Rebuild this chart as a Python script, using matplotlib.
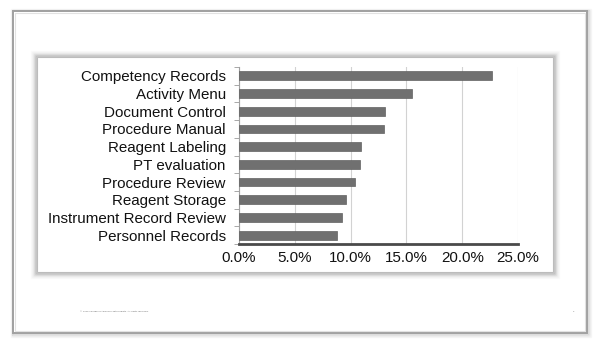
import matplotlib
matplotlib.use("Agg")
import matplotlib.pyplot as plt
from matplotlib.patches import Rectangle
from matplotlib.ticker import FixedLocator, FuncFormatter

categories = [
    "Competency Records",
    "Activity Menu",
    "Document Control",
    "Procedure Manual",
    "Reagent Labeling",
    "PT evaluation",
    "Procedure Review",
    "Reagent Storage",
    "Instrument Record Review",
    "Personnel Records",
]
percent = [22.7, 15.5, 13.1, 13.0, 10.9, 10.8, 10.4, 9.6, 9.2, 8.8]
x_ticks = [0, 5, 10, 15, 20, 25]

W, H = 600, 344
fig = plt.figure(figsize=(W / 100, H / 100), dpi=100)
fig.patch.set_facecolor("white")


def px_rect(x0, y0, x1, y1, **kw):
    """Rectangle given in pixel coordinates (origin at top-left)."""
    return Rectangle((x0 / W, 1 - y1 / H), (x1 - x0) / W, (y1 - y0) / H,
                     transform=fig.transFigure, zorder=-5, **kw)


# slide frame with soft shadow
for i, a in enumerate([0.12, 0.08, 0.05, 0.03]):
    d = i + 1
    fig.patches.append(px_rect(13 - d * 0.5, 11 - d * 0.5, 587 + d, 333 + d,
                               facecolor="none", edgecolor="black",
                               linewidth=1.0, alpha=a))
fig.patches.append(px_rect(13, 11, 587, 333, facecolor="white",
                           edgecolor="#a0a0a0", linewidth=1.4))
fig.patches.append(px_rect(15, 13, 585, 331, facecolor="none",
                           edgecolor="#e2e2e2", linewidth=0.8))

# chart panel with soft shadow
for i, a in enumerate([0.20, 0.15, 0.10, 0.06, 0.035, 0.02]):
    d = i + 1
    fig.patches.append(px_rect(37 - d, 57 - d, 553 + d, 272 + d,
                               facecolor="none", edgecolor="black",
                               linewidth=1.0, alpha=a))
fig.patches.append(px_rect(37, 57, 553, 272, facecolor="white",
                           edgecolor="#bcbcbc", linewidth=0.8))

# footer
fig.text(80 / W, 1 - 311 / H,
         "\u00a9 2016 College of American Pathologists. All rights reserved.",
         fontsize=1.6, color="#666666", va="center", ha="left")
fig.text(573 / W, 1 - 311 / H, "2", fontsize=1.6, color="#666666",
         va="center", ha="left")

# bar chart
left, right, top, bottom = 239, 518, 67, 244
ax = fig.add_axes([left / W, 1 - bottom / H, (right - left) / W, (bottom - top) / H])
ax.set_zorder(5)
ax.set_facecolor("white")
ypos = list(range(len(categories)))
ax.barh(ypos, percent, height=0.5, color="#707070", edgecolor="#626262",
        linewidth=0.5, zorder=3)
ax.set_ylim(len(categories) - 0.5, -0.5)
ax.set_xlim(0, 25)

ax.set_xticks(x_ticks)
ax.xaxis.set_major_formatter(FuncFormatter(lambda v, p: f"{v:.1f}%"))
ax.set_yticks(ypos)
ax.set_yticklabels(categories)
ax.yaxis.set_minor_locator(FixedLocator([k + 0.5 for k in range(-1, len(categories))]))

font = dict(family=["Liberation Sans", "DejaVu Sans"], size=10.9, color="#111111")
for lab in ax.get_xticklabels() + ax.get_yticklabels():
    lab.set_fontfamily(font["family"])
    lab.set_fontsize(font["size"])
    lab.set_color(font["color"])

ax.tick_params(axis="y", which="major", length=0, pad=9.5)
ax.tick_params(axis="y", which="minor", length=3.5, width=0.6, color="#9a9a9a")
ax.tick_params(axis="x", which="major", length=0, pad=5)

ax.grid(axis="x", color="#d2d2d2", linewidth=0.8, zorder=0)
ax.set_axisbelow(True)
for s in ["top", "right"]:
    ax.spines[s].set_visible(False)
ax.spines["left"].set_color("#a0a0a0")
ax.spines["left"].set_linewidth(0.8)
ax.spines["bottom"].set_color("#4a4a4a")
ax.spines["bottom"].set_linewidth(2.0)

fig.savefig("out.png", dpi=100)
